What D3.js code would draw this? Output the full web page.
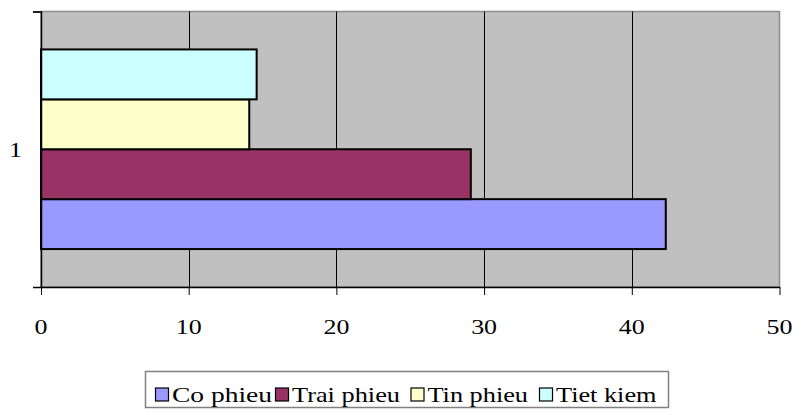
<!DOCTYPE html>
<html>
<head>
<meta charset="utf-8">
<script src="https://cdn.jsdelivr.net/npm/d3@7"></script>
<style>
  html, body { margin: 0; padding: 0; background: #fff; }
  svg { display: block; }
</style>
</head>
<body>
<svg id="chart" width="794" height="415"></svg>
<script>
// Data
const categories = ["1"];
const seriesNames = ["Co phieu", "Trai phieu", "Tin phieu", "Tiet kiem"];
const seriesValues = [42.3, 29.1, 14.1, 14.6];
const seriesColors = ["#9999FF", "#993366", "#FFFFCC", "#CCFFFF"];
const xTicks = [0, 10, 20, 30, 40, 50];

const FONT = "'Liberation Serif', Tinos, 'Times New Roman', Times, 'DejaVu Serif', serif";

const svg = d3.select("#chart").attr("font-family", FONT);
const plot = { left: 41, top: 11.5, right: 779.5, bottom: 287 };

const x = d3.scaleLinear().domain([0, 50]).range([plot.left, plot.right]);
const yCat = d3.scaleBand().domain(categories).range([plot.top, plot.bottom]);
// series drawn bottom-up: first series at the bottom
const ySer = d3.scaleBand()
  .domain(seriesNames.slice().reverse())
  .range([0, yCat.bandwidth()])
  .paddingInner(0).paddingOuter(0.76);

// plot background
svg.append("rect")
  .attr("x", plot.left).attr("y", plot.top)
  .attr("width", plot.right - plot.left).attr("height", plot.bottom - plot.top)
  .attr("fill", "#C0C0C0").attr("stroke", "#8c8c8c").attr("stroke-width", 1.5);

// vertical gridlines
svg.append("g").selectAll("line")
  .data(xTicks.filter(d => d > 0 && d < 50))
  .join("line")
  .attr("x1", d => Math.round(x(d)) + 0.5).attr("x2", d => Math.round(x(d)) + 0.5)
  .attr("y1", plot.top).attr("y2", plot.bottom)
  .attr("stroke", "#000").attr("stroke-width", 1);

// bars
const rows = seriesNames.map((name, i) => ({ name, value: seriesValues[i], color: seriesColors[i] }));
svg.append("g").selectAll("rect")
  .data(rows)
  .join("rect")
  .attr("x", x(0))
  .attr("y", d => yCat("1") + ySer(d.name))
  .attr("width", d => x(d.value) - x(0))
  .attr("height", ySer.bandwidth())
  .attr("fill", d => d.color)
  .attr("stroke", "#000").attr("stroke-width", 2);

// x axis
const xAxis = svg.append("g")
  .attr("transform", `translate(0,${plot.bottom})`)
  .call(d3.axisBottom(x).tickValues(xTicks).tickSize(8).tickSizeOuter(0).tickFormat(""));
xAxis.select(".domain").attr("stroke", "#000").attr("stroke-width", 1.5);
xAxis.selectAll(".tick line").attr("stroke", "#000");

svg.append("g").selectAll("text")
  .data(xTicks)
  .join("text")
  .attr("transform", d => `translate(${x(d)},334) scale(1.18,1)`)
  .attr("text-anchor", "middle")
  .attr("font-family", FONT)
  .attr("font-size", 22)
  .attr("fill", "#000")
  .text(d => d);

// y axis
const yAxis = svg.append("g")
  .attr("transform", `translate(${plot.left},0)`)
  .call(d3.axisLeft(d3.scaleLinear().domain([0, 1]).range([plot.bottom, plot.top]))
    .tickValues([0, 1]).tickSize(8).tickFormat(""));
yAxis.select(".domain").attr("stroke", "#000").attr("stroke-width", 1.5);
yAxis.selectAll(".tick line").attr("stroke", "#000");

svg.append("g").selectAll("text")
  .data(categories)
  .join("text")
  .attr("transform", d => `translate(15.5,${yCat(d) + yCat.bandwidth() / 2 + 8}) scale(1.18,1)`)
  .attr("text-anchor", "middle")
  .attr("font-family", FONT)
  .attr("font-size", 22)
  .attr("fill", "#000")
  .text(d => d);

// legend
const legend = svg.append("g");
legend.append("rect")
  .attr("x", 145.5).attr("y", 371.5).attr("width", 523).attr("height", 36)
  .attr("fill", "#fff").attr("stroke", "#808080").attr("stroke-width", 1.5);

const legendX = [155, 275, 410.5, 539];
const legendW = [100, 108, 100.5, 100.5];
const item = legend.selectAll("g.item")
  .data(rows)
  .join("g").attr("class", "item")
  .attr("transform", (d, i) => `translate(${legendX[i]},0)`);
item.append("rect")
  .attr("x", 0.5).attr("y", 388).attr("width", 13).attr("height", 13)
  .attr("fill", d => d.color).attr("stroke", "#000").attr("stroke-width", 1.2);
item.append("text")
  .attr("x", 17).attr("y", 401.5)
  .attr("font-family", FONT)
  .attr("font-size", 21)
  .attr("fill", "#000")
  .attr("textLength", (d, i) => legendW[i])
  .attr("lengthAdjust", "spacingAndGlyphs")
  .text(d => d.name);
</script>
</body>
</html>
